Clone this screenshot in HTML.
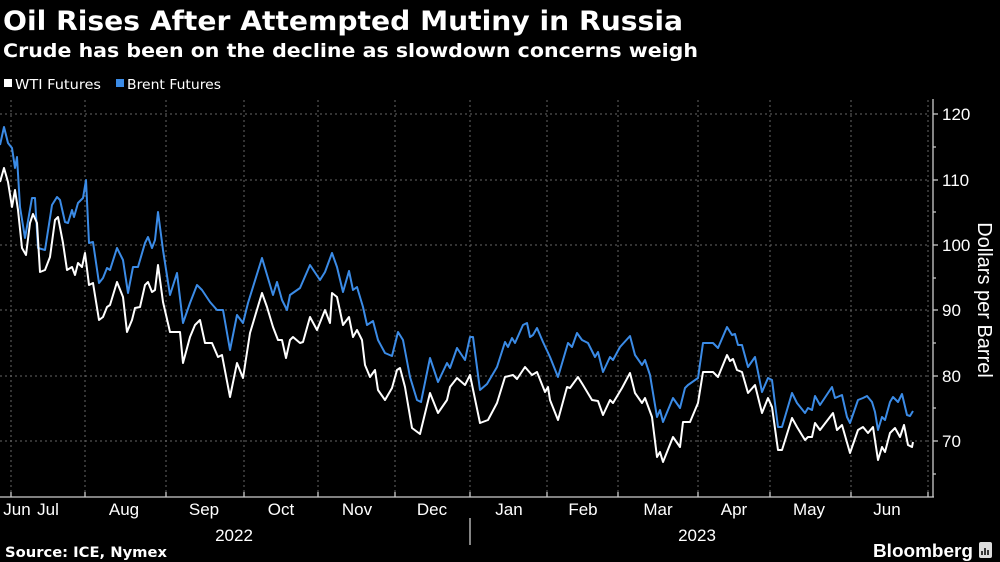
<!DOCTYPE html>
<html><head><meta charset="utf-8"><style>
html,body{margin:0;padding:0;background:#000;}
body{width:1000px;height:562px;overflow:hidden;font-family:"Liberation Sans",sans-serif;color:#fff;position:relative}
</style></head><body>
<svg width="1000" height="562" style="position:absolute;left:0;top:0">
<g fill="#fff" font-family="DejaVu Sans, sans-serif" font-weight="bold">
<text x="3" y="30" font-size="27" textLength="680" lengthAdjust="spacingAndGlyphs">Oil Rises After Attempted Mutiny in Russia</text>
<text x="3" y="57" font-size="19" textLength="695" lengthAdjust="spacingAndGlyphs">Crude has been on the decline as slowdown concerns weigh</text>
</g>
<rect x="4" y="79" width="8" height="8" fill="#fff"/>
<text x="15" y="89" fill="#fff" font-family="DejaVu Sans, sans-serif" font-size="13" textLength="86" lengthAdjust="spacingAndGlyphs">WTI Futures</text>
<rect x="116" y="79" width="8" height="8" fill="#3b8be6"/>
<text x="127" y="89" fill="#fff" font-family="DejaVu Sans, sans-serif" font-size="13" textLength="94" lengthAdjust="spacingAndGlyphs">Brent Futures</text>
<g stroke="#666" stroke-width="1" stroke-dasharray="2,3" fill="none">
<line x1="0" x2="930" y1="114" y2="114"/><line x1="0" x2="930" y1="180" y2="180"/><line x1="0" x2="930" y1="245" y2="245"/><line x1="0" x2="930" y1="310" y2="310"/><line x1="0" x2="930" y1="376" y2="376"/><line x1="0" x2="930" y1="441" y2="441"/>
<line x1="11" x2="11" y1="100" y2="497"/><line x1="85" x2="85" y1="100" y2="497"/><line x1="166" x2="166" y1="100" y2="497"/><line x1="244" x2="244" y1="100" y2="497"/><line x1="318" x2="318" y1="100" y2="497"/><line x1="395" x2="395" y1="100" y2="497"/><line x1="470" x2="470" y1="100" y2="497"/><line x1="547" x2="547" y1="100" y2="497"/><line x1="618" x2="618" y1="100" y2="497"/><line x1="698" x2="698" y1="100" y2="497"/><line x1="770" x2="770" y1="100" y2="497"/><line x1="851" x2="851" y1="100" y2="497"/><line x1="928" x2="928" y1="100" y2="497"/>
</g>
<g stroke="#ccc" stroke-width="1.3" fill="none">
<line x1="0" x2="934" y1="497" y2="497"/><line x1="933" x2="933" y1="99" y2="497"/>
<path d="M11 497v-5M85 497v-5M166 497v-5M244 497v-5M318 497v-5M395 497v-5M470 497v-5M547 497v-5M618 497v-5M698 497v-5M770 497v-5M851 497v-5M928 497v-5"/>
<path d="M933 114h5M933 180h5M933 245h5M933 310h5M933 376h5M933 441h5M933 147h3M933 212h3M933 278h3M933 343h3M933 408h3M933 474h3"/>
<line x1="470" x2="470" y1="518" y2="545"/>
</g>
<polyline fill="none" stroke="#3b8be6" stroke-width="2" stroke-linejoin="round" points="0,145 4,127 8,143 12,148 15,168 17,157 20,207 25,238 32,198 35,198 38,248 45,250 52,205 57,197 60,200 65,222 68,223 72,210 74,217 78,203 83,198 86,180 89,243 93,242 99,283 103,278 107,268 110,270 117,248 123,260 128,293 133,267 138,267 145,243 148,237 152,248 155,240 158,212 163,250 170,295 177,273 183,323 190,303 197,285 202,290 210,302 217,310 223,310 230,350 237,315 243,323 248,303 262,258 273,295 277,282 282,300 287,310 290,295 300,288 310,265 320,280 325,272 332,253 337,267 343,292 349,271 353,290 357,287 363,307 367,325 373,321 378,340 385,353 392,356 398,332 403,340 410,377 417,400 421,402 430,358 438,382 447,363 450,368 457,348 465,360 470,337 473,337 480,390 487,384 497,367 505,342 508,347 512,338 515,343 523,325 527,323 530,337 533,335 537,328 543,342 550,357 558,377 568,343 572,347 577,333 582,340 588,343 595,357 598,352 603,372 610,357 613,360 620,347 630,336 635,355 642,365 645,360 650,375 657,417 660,410 663,422 673,398 680,408 685,388 688,385 698,378 703,343 713,343 718,348 727,327 732,335 735,334 738,345 742,345 748,367 755,357 762,392 768,378 772,380 778,427 782,427 792,393 797,403 805,413 808,408 812,410 815,396 820,405 832,387 835,398 842,395 847,417 850,423 858,400 863,398 867,396 872,402 875,412 878,430 882,417 885,420 890,402 893,397 898,402 902,394 907,415 910,416 913,411"/>
<polyline fill="none" stroke="#fff" stroke-width="2" stroke-linejoin="round" points="0,182 4,168 8,182 12,207 15,190 18,210 22,248 26,255 30,223 33,214 37,223 40,272 45,270 50,257 55,220 58,217 63,243 67,270 72,267 75,275 78,263 82,267 85,253 89,285 93,283 99,320 103,317 107,307 110,305 117,282 123,297 127,332 132,320 135,308 140,307 145,285 148,282 152,292 155,290 158,265 163,302 170,332 180,332 183,363 190,337 195,325 200,320 205,343 212,343 218,357 222,355 230,397 237,363 243,378 250,333 262,293 267,307 273,327 278,340 282,340 286,358 290,340 293,337 300,343 303,342 310,317 317,330 325,310 330,323 332,293 337,297 343,325 349,317 353,337 357,330 362,340 365,365 370,377 375,370 378,390 385,400 392,388 397,370 400,368 405,387 412,428 420,434 430,393 438,413 447,400 450,387 457,378 465,385 470,375 480,423 488,420 497,403 505,377 513,375 517,379 525,367 532,375 537,372 545,392 548,387 550,400 558,420 567,387 570,388 578,377 583,385 592,400 598,401 603,415 610,400 613,403 622,388 630,373 635,393 642,403 645,398 652,417 657,457 660,452 663,462 673,437 680,447 683,422 690,422 698,403 703,372 713,372 718,377 727,355 730,361 733,359 737,370 742,372 748,393 755,385 762,413 768,398 772,407 778,450 782,450 792,418 797,427 805,440 808,437 812,437 815,423 820,430 833,413 837,430 842,425 850,453 858,430 863,427 868,433 873,427 878,460 882,447 885,452 890,433 895,428 900,437 904,425 908,445 912,447 913,442"/>
<g fill="#fff" font-family="Liberation Sans, sans-serif" font-size="17">
<text x="942" y="120">120</text><text x="942" y="186">110</text><text x="942" y="251">100</text><text x="942" y="316">90</text><text x="942" y="382">80</text><text x="942" y="447">70</text>
<text transform="translate(978,300) rotate(90)" text-anchor="middle" font-size="20">Dollars per Barrel</text>
</g>
<g fill="#fff" font-family="Liberation Sans, sans-serif" font-size="17" text-anchor="middle">
<text x="17" y="515">Jun</text><text x="48" y="515">Jul</text><text x="124" y="515">Aug</text><text x="204" y="515">Sep</text><text x="281" y="515">Oct</text><text x="357" y="515">Nov</text><text x="432" y="515">Dec</text><text x="509" y="515">Jan</text><text x="583" y="515">Feb</text><text x="658" y="515">Mar</text><text x="734" y="515">Apr</text><text x="809" y="515">May</text><text x="887" y="515">Jun</text>
<text x="234" y="541">2022</text><text x="697" y="541">2023</text>
</g>
<text x="5" y="557" fill="#fff" font-family="DejaVu Sans, sans-serif" font-size="14" font-weight="bold" textLength="162" lengthAdjust="spacingAndGlyphs">Source: ICE, Nymex</text>
<text x="873" y="557" fill="#fff" font-family="Liberation Sans, sans-serif" font-size="18" font-weight="bold" textLength="100" lengthAdjust="spacingAndGlyphs">Bloomberg</text>
<rect x="979" y="542" width="13" height="16" rx="2" fill="#ddd"/>
<path d="M982 555v-4M985 555v-7M988 555v-5" stroke="#000" stroke-width="1.5"/>
</svg>
</body></html>
